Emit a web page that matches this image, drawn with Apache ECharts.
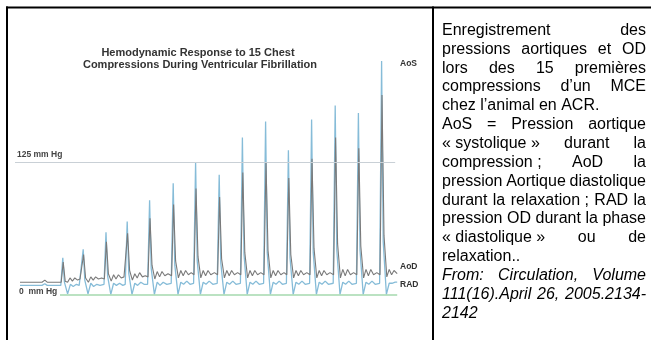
<!DOCTYPE html>
<html>
<head>
<meta charset="utf-8">
<script src="https://cdn.jsdelivr.net/npm/echarts@6/dist/echarts.min.js"></script>
<style>
  html, body { margin: 0; padding: 0; background: #fff; }
  #chart { width: 651px; height: 340px; }
</style>
</head>
<body>
<div id="chart"></div>
<script>
// time in seconds, pressure in mm Hg, read off the tracing
// light blue trace (RAD, spikes to AoS on each compression)
const radTrace = [
  [0, 9], [0.55, 9], [0.62, 10.5], [0.68, 9], [1.02, 9],
  [1.07, 35], [1.11, 12], [1.19, 1], [1.26, 10], [1.33, 8], [1.41, 10], [1.48, 9], [1.53, 9],
  [1.58, 43], [1.62, 14], [1.70, 1], [1.77, 11], [1.84, 8], [1.92, 10], [2.00, 9], [2.10, 10],
  [2.15, 59], [2.19, 18], [2.27, 0.5], [2.34, 11], [2.41, 9], [2.49, 11], [2.57, 9], [2.63, 10],
  [2.68, 69], [2.72, 20], [2.80, 0.5], [2.87, 11], [2.94, 9], [3.02, 12], [3.10, 10], [3.19, 10],
  [3.24, 89], [3.28, 25], [3.36, 0.5], [3.43, 12], [3.50, 9], [3.58, 12], [3.67, 10], [3.78, 11],
  [3.83, 105], [3.87, 28], [3.95, 0.5], [4.02, 12], [4.09, 10], [4.17, 13], [4.25, 10], [4.34, 11],
  [4.39, 125], [4.43, 32], [4.51, 0.5], [4.58, 12], [4.65, 10], [4.73, 13], [4.82, 10], [4.93, 11],
  [4.98, 113], [5.02, 30], [5.10, 0.5], [5.17, 12], [5.24, 10], [5.32, 13], [5.40, 10], [5.51, 11],
  [5.56, 148], [5.60, 38], [5.68, 0.5], [5.75, 12], [5.82, 10], [5.90, 13], [5.98, 10], [6.09, 11],
  [6.14, 163], [6.18, 40], [6.26, 0.5], [6.33, 12], [6.40, 10], [6.48, 13], [6.56, 10], [6.66, 11],
  [6.71, 136], [6.75, 35], [6.83, 0.5], [6.90, 12], [6.97, 10], [7.05, 13], [7.13, 10], [7.24, 11],
  [7.29, 165], [7.33, 40], [7.41, 0.5], [7.48, 12], [7.55, 10], [7.63, 13], [7.71, 10], [7.83, 11],
  [7.88, 178], [7.92, 42], [8.00, 0.5], [8.07, 12], [8.14, 10], [8.22, 13], [8.30, 10], [8.41, 11],
  [8.46, 171], [8.50, 42], [8.58, 0.5], [8.65, 12], [8.72, 10], [8.80, 13], [8.88, 10], [8.99, 11],
  [9.04, 220], [9.08, 50], [9.16, 0.5], [9.23, 11], [9.30, 11], [9.38, 12], [9.43, 12]
];

// gray trace (aortic pressure, AoD between compressions)
const aodTrace = [
  [0, 12], [0.55, 12], [0.62, 14], [0.68, 12], [1.03, 12],
  [1.08, 31], [1.13, 13], [1.19, 12], [1.25, 16], [1.31, 13], [1.37, 16], [1.44, 14], [1.50, 15], [1.54, 14],
  [1.59, 38], [1.64, 16], [1.71, 12], [1.77, 17], [1.83, 14], [1.89, 17], [1.96, 15], [2.04, 16], [2.11, 15],
  [2.16, 50], [2.21, 20], [2.28, 13], [2.34, 19], [2.40, 15], [2.46, 19], [2.53, 16], [2.60, 17], [2.64, 16],
  [2.69, 58], [2.74, 23], [2.81, 14], [2.87, 20], [2.93, 16], [2.99, 21], [3.06, 17], [3.13, 18], [3.20, 17],
  [3.25, 72], [3.30, 28], [3.37, 15], [3.43, 22], [3.49, 17], [3.55, 22], [3.62, 18], [3.70, 20], [3.79, 18],
  [3.84, 85], [3.89, 32], [3.96, 16], [4.02, 23], [4.08, 18], [4.14, 23], [4.21, 19], [4.28, 21], [4.35, 19],
  [4.40, 100], [4.45, 36], [4.52, 16], [4.58, 23], [4.64, 18], [4.70, 23], [4.77, 19], [4.86, 21], [4.94, 19],
  [4.99, 92], [5.04, 34], [5.11, 16], [5.17, 23], [5.23, 18], [5.29, 23], [5.36, 19], [5.44, 21], [5.52, 19],
  [5.57, 115], [5.62, 40], [5.69, 16], [5.75, 23], [5.81, 18], [5.87, 23], [5.94, 19], [6.02, 21], [6.10, 19],
  [6.15, 125], [6.20, 42], [6.27, 16], [6.33, 23], [6.39, 18], [6.45, 23], [6.52, 19], [6.60, 21], [6.67, 19],
  [6.72, 110], [6.77, 38], [6.84, 16], [6.90, 23], [6.96, 18], [7.02, 23], [7.09, 19], [7.17, 21], [7.25, 19],
  [7.30, 128], [7.35, 44], [7.42, 16], [7.48, 23], [7.54, 18], [7.60, 23], [7.67, 19], [7.75, 21], [7.84, 19],
  [7.89, 148], [7.94, 48], [8.01, 16], [8.07, 24], [8.13, 18], [8.19, 24], [8.26, 19], [8.34, 21], [8.42, 19],
  [8.47, 138], [8.52, 46], [8.59, 16], [8.65, 24], [8.71, 18], [8.77, 24], [8.84, 19], [8.92, 21], [9.00, 19],
  [9.05, 188], [9.10, 56], [9.17, 17], [9.23, 24], [9.29, 19], [9.35, 23], [9.43, 20]
];

// reference levels: [value, from t, to t]
const level125 = [125, -0.125, 9.38];
const level0 = [0, 1.0, 9.43];

const titleLines = [
  "Hemodynamic Response to 15 Chest",
  "Compressions During Ventricular Fibrillation"
];
const levelLabels = ["125 mm Hg", "0  mm Hg"];
const traceLabels = ["AoS", "AoD", "RAD"];

const noteLines = [
  "Enregistrement des",
  "pressions aortiques et OD",
  "lors des 15 premières",
  "compressions d’un MCE",
  "chez l’animal en ACR.",
  "AoS = Pression aortique",
  "«\u00a0systolique\u00a0» durant la",
  "compression\u00a0; AoD la",
  "pression Aortique diastolique",
  "durant la relaxation\u00a0; RAD la",
  "pression OD durant la phase",
  "«\u00a0diastolique\u00a0» ou de",
  "relaxation..",
  "From: Circulation, Volume",
  "111(16).April 26, 2005.2134-",
  "2142"
];
const paragraphEnds = [4, 12, 15];
const italicFrom = 13;

const chart = echarts.init(document.getElementById("chart"), null, { renderer: "canvas" });

const measureCtx = document.createElement("canvas").getContext("2d");
function textWidth(s, font) {
  measureCtx.font = font;
  return measureCtx.measureText(s).width;
}

function txt(x, y, text, font, fill, align) {
  return {
    type: "text", x: x, y: y, silent: true,
    style: {
      text: text, font: font, fill: fill,
      textAlign: align || "left", align: align || "left",
      textVerticalAlign: "middle", verticalAlign: "middle"
    }
  };
}

const graphics = [];
// table borders
const border = { stroke: "#000", lineWidth: 2 };
graphics.push({ type: "line", silent: true, shape: { x1: 6, y1: 7.5, x2: 651, y2: 7.5 }, style: border });
graphics.push({ type: "line", silent: true, shape: { x1: 7, y1: 6.5, x2: 7, y2: 340 }, style: border });
graphics.push({ type: "line", silent: true, shape: { x1: 433, y1: 6.5, x2: 433, y2: 340 }, style: border });

// figure labels
const titleFont = 'bold 11px "Liberation Sans", Arial, sans-serif';
graphics.push(txt(198, 53, titleLines[0], titleFont, "#333", "center"));
graphics.push(txt(200, 65, titleLines[1], titleFont, "#333", "center"));
const smallFont = 'bold 8.5px "Liberation Sans", Arial, sans-serif';
graphics.push(txt(17, 155, levelLabels[0], smallFont, "#444"));
graphics.push(txt(19, 292, levelLabels[1], smallFont, "#444"));
graphics.push(txt(400, 64, traceLabels[0], smallFont, "#333"));
graphics.push(txt(400, 267, traceLabels[1], smallFont, "#333"));
graphics.push(txt(400, 285, traceLabels[2], smallFont, "#333"));

// justified note on the right
const noteLeft = 442, noteRight = 646;
noteLines.forEach(function (line, i) {
  const y = 30.5 + i * 18.85;
  const font = (i >= italicFrom ? "italic " : "") + '16px "Liberation Sans", Arial, sans-serif';
  const words = line.split(" ");
  if (paragraphEnds.indexOf(i) >= 0 || words.length < 2) {
    graphics.push(txt(noteLeft, y, line, font, "#000"));
    return;
  }
  const widths = words.map(function (w) { return textWidth(w, font); });
  const total = widths.reduce(function (a, b) { return a + b; }, 0);
  const gap = (noteRight - noteLeft - total) / (words.length - 1);
  let x = noteLeft;
  words.forEach(function (w, k) {
    graphics.push(txt(x, y, w, font, "#000"));
    x += widths[k] + gap;
  });
});

const option = {
  animation: false,
  backgroundColor: "#fff",
  grid: { left: 10, width: 400, top: 29, height: 276.6 },
  xAxis: { type: "value", min: -0.25, max: 9.75, show: false },
  yAxis: { type: "value", min: -10, max: 250, show: false },
  series: [
    {
      name: "RAD",
      type: "line",
      data: radTrace,
      showSymbol: false,
      silent: true,
      lineStyle: { color: "#86bcd8", width: 1.3 },
      markLine: {
        silent: true,
        symbol: ["none", "none"],
        label: { show: false },
        lineStyle: { type: "solid" },
        data: [
          [
            { coord: [level125[1], level125[0]], lineStyle: { color: "#c9d0d6", width: 1, type: "solid" } },
            { coord: [level125[2], level125[0]] }
          ],
          [
            { coord: [level0[1], level0[0]], lineStyle: { color: "#a5d8ae", width: 1.5, type: "solid" } },
            { coord: [level0[2], level0[0]] }
          ]
        ]
      },
      z: 2
    },
    {
      name: "AoD",
      type: "line",
      data: aodTrace,
      showSymbol: false,
      silent: true,
      lineStyle: { color: "#7a7a7a", width: 1.1 },
      z: 3
    }
  ],
  graphic: { elements: graphics }
};

chart.setOption(option);
</script>
</body>
</html>
